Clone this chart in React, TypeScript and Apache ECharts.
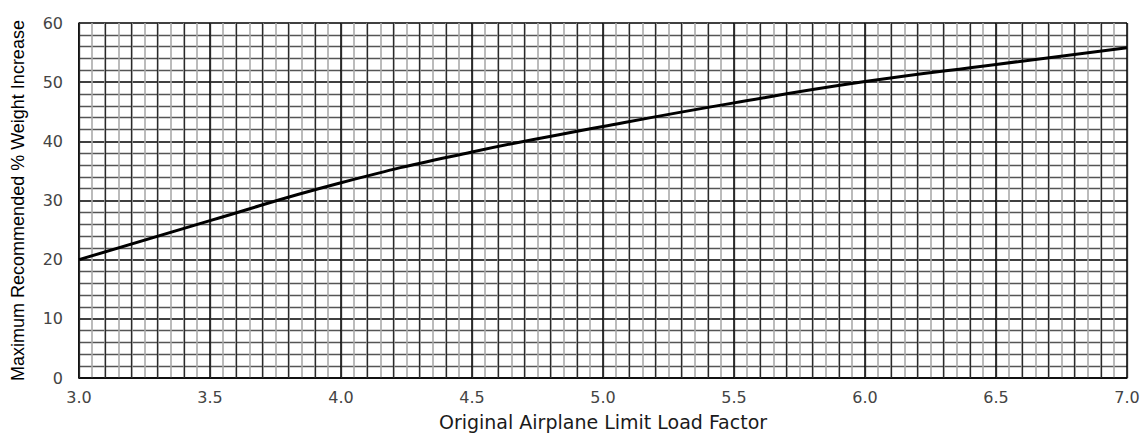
import React, { useEffect, useRef } from "react";
import * as echarts from "echarts";

const loadFactors = [3.0, 3.5, 4.0, 4.5, 5.0, 5.5, 6.0, 6.5, 7.0];
const weightIncrease = [20.0, 26.6, 33.0, 38.2, 42.5, 46.5, 50.1, 53.0, 55.8];
const xTitle = "Original Airplane Limit Load Factor";
const yTitle = "Maximum Recommended % Weight Increase";

export default function App() {
  const ref = useRef<HTMLDivElement>(null);
  useEffect(() => {
    if (!ref.current) return;
    const chart = echarts.init(ref.current, null, { renderer: "svg" });
    const wide = "'DejaVu Sans', 'Open Sans', sans-serif";
    const narrow = "'Liberation Sans', Arial, sans-serif";
    chart.setOption({
      animation: false,
      backgroundColor: "#ffffff",
      grid: { left: 79, right: 19, top: 23, bottom: 58 },
      xAxis: [
        {
          type: "value",
          min: 3,
          max: 7,
          interval: 0.5,
          position: "bottom",
          name: xTitle,
          nameLocation: "middle",
          nameGap: 34,
          nameTextStyle: { fontFamily: wide, fontSize: 19, color: "#1a1a1a" },
          axisLine: { show: true, lineStyle: { color: "#000", width: 1.5 } },
          axisTick: { show: false },
          axisLabel: {
            formatter: (v: number) => v.toFixed(1),
            margin: 11,
            fontFamily: wide,
            fontSize: 16,
            color: "#444",
          },
          splitLine: { show: true, lineStyle: { color: "#000", width: 1.5 } },
          minorTick: { show: false, splitNumber: 10 },
          minorSplitLine: { show: true, lineStyle: { color: "#aaa", width: 1.6 } },
          z: 3,
        },
        {
          type: "value",
          min: 3,
          max: 7,
          interval: 0.1,
          position: "top",
          axisLine: { show: false },
          axisTick: { show: false },
          axisLabel: { show: false },
          splitLine: { show: true, lineStyle: { color: "#2a2a2a", width: 1.3 } },
          z: 4,
        },
      ],
      yAxis: {
        type: "value",
        min: 0,
        max: 60,
        interval: 10,
        name: yTitle,
        nameLocation: "middle",
        nameGap: 52,
        nameTextStyle: { fontFamily: narrow, fontSize: 18, color: "#000" },
        axisLine: { show: true, lineStyle: { color: "#000", width: 1.5 } },
        axisTick: { show: false },
        axisLabel: { margin: 16, fontFamily: wide, fontSize: 16, color: "#444" },
        splitLine: { show: true, lineStyle: { color: "#000", width: 1.5 } },
        minorTick: { show: false, splitNumber: 5 },
        minorSplitLine: { show: true, lineStyle: { color: "#555", width: 1.3 } },
        z: 3,
      },
      series: [
        {
          type: "line",
          data: loadFactors.map((x, i) => [x, weightIncrease[i]]),
          smooth: true,
          showSymbol: false,
          lineStyle: { color: "#000", width: 3 },
          xAxisIndex: 0,
          z: 10,
        },
      ],
    });
    return () => chart.dispose();
  }, []);
  return (
    <div
      ref={ref}
      style={{ position: "fixed", left: 0, top: 0, width: 1146, height: 436 }}
    />
  );
}
